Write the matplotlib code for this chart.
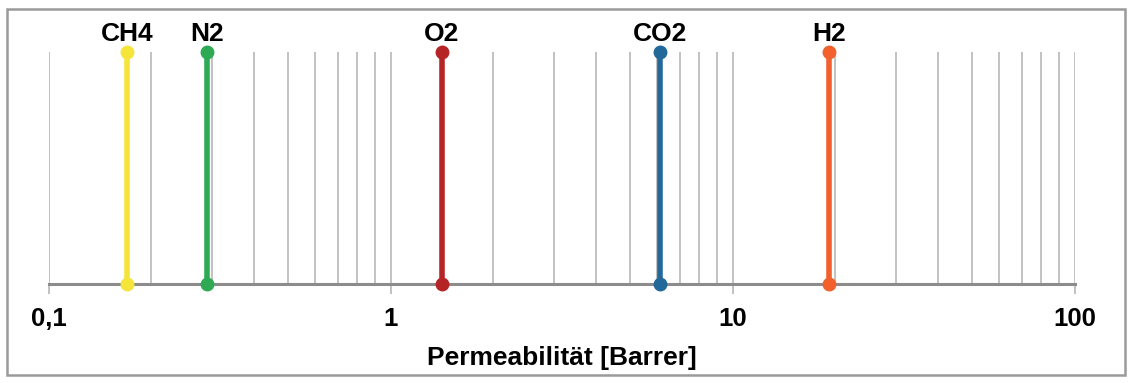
import matplotlib
matplotlib.use("Agg")
import matplotlib.pyplot as plt
from matplotlib.patches import Rectangle
import numpy as np

gases = ["CH4", "N2", "O2", "CO2", "H2"]
permeability = [0.17, 0.29, 1.41, 6.15, 19.2]
colors = ["#F5E43A", "#2EAA55", "#B52526", "#22699A", "#F2602E"]
tick_values = [0.1, 1, 10, 100]
tick_labels = ["0,1", "1", "10", "100"]
xlabel = "Permeabilität [Barrer]"

plt.rcParams['font.family'] = ['Liberation Sans', 'DejaVu Sans']

W, H = 1132, 383
fig = plt.figure(figsize=(W / 100, H / 100), dpi=100)
x0, x1 = 48.5, 1074.5
yb, yt = 284, 52
ax = fig.add_axes([x0 / W, (H - yb) / H, (x1 - x0) / W, (yb - yt) / H])
ax.set_xscale("log")
ax.set_xlim(0.1, 100)
ax.set_ylim(0, 1)

# grid lines (major + minor)
grid_x = []
for d in [0.1, 1, 10]:
    for m in range(1, 10):
        grid_x.append(d * m)
grid_x.append(100)
ax.vlines(grid_x, 0, 1, colors="#BDBDBD", lw=1.3, zorder=1)

for s in ["top", "left", "right"]:
    ax.spines[s].set_visible(False)
ax.spines["bottom"].set_color("#8C8C8C")
ax.spines["bottom"].set_linewidth(2.2)
ax.spines["bottom"].set_zorder(2)
ax.set_yticks([])
ax.set_xticks(tick_values)
ax.set_xticklabels(tick_labels, fontsize=18.5, fontweight="bold")
ax.xaxis.set_minor_locator(matplotlib.ticker.NullLocator())
ax.tick_params(axis="x", which="major", direction="out", length=7, width=1.3,
               color="#BDBDBD", pad=9.5)
ax.set_xlabel(xlabel, fontsize=19, fontweight="bold", labelpad=11)

for g, p, c in zip(gases, permeability, colors):
    ax.plot([p, p], [0, 1], color=c, lw=4, zorder=3, solid_capstyle="butt")
    ax.plot([p, p], [0, 1], "o", color=c, ms=9, zorder=4, clip_on=False)
    ax.annotate(g, (p, 1), xytext=(0, 4), textcoords="offset points",
                ha="center", va="bottom", fontsize=19, fontweight="bold")

fig.patches.append(Rectangle((7 / W, (H - 375) / H), (1125 - 7) / W, (375 - 9) / H,
                             transform=fig.transFigure, fill=False,
                             edgecolor="#9A9A9A", lw=1.8))

fig.savefig("out.png", dpi=100)
